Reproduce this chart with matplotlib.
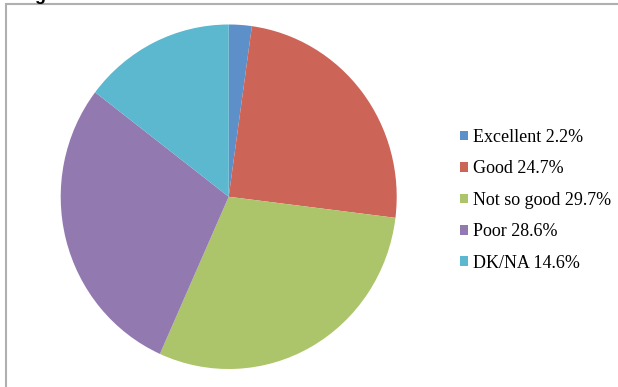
import matplotlib
matplotlib.use('Agg')
import matplotlib.pyplot as plt
from matplotlib.patches import Rectangle

# survey answers and their shares (%)
categories = ["Excellent", "Good", "Not so good", "Poor", "DK/NA"]
shares = [2.2, 24.7, 29.7, 28.6, 14.6]
colors = ["#5D90C8", "#CD6458", "#ACC46A", "#927AB1", "#5BB8CE"]

W, H = 618, 387
fig = plt.figure(figsize=(W / 100, H / 100), dpi=100)

# chart frame, open to the right and bottom
fig.patches.append(Rectangle((5.5 / W, -0.1), 1.2, 1 - 4.5 / H + 0.1,
                             transform=fig.transFigure, fill=False,
                             edgecolor="#B0B0B0", linewidth=1.5))

# caption above the frame, mostly cut off
fig.text(19 / W, 1 + 0.3 / H, "Fig. 1", fontsize=13, fontweight="bold",
         family="Liberation Sans", ha="left", va="baseline", color="black")

# pie area
ax = fig.add_axes([60.7 / W, 18 / H, 336 / W, 344.5 / H])
wedges, _ = ax.pie(shares, colors=colors, startangle=90, counterclock=False,
                   radius=1.0, wedgeprops=dict(linewidth=0))
ax.set_aspect('auto')
ax.set_xlim(-1, 1)
ax.set_ylim(-1, 1)
ax.axis('off')

labels = [f"{c} {v}%" for c, v in zip(categories, shares)]
fig.legend(wedges, labels, loc="upper left",
           bbox_to_anchor=(459.5 / W, 1 - 129 / H),
           prop={"family": "Liberation Serif", "size": 13},
           frameon=False, handlelength=0.45, handleheight=0.45,
           handletextpad=0.3, labelspacing=0.8, borderpad=0,
           borderaxespad=0)

plt.savefig("out.png", dpi=100)
